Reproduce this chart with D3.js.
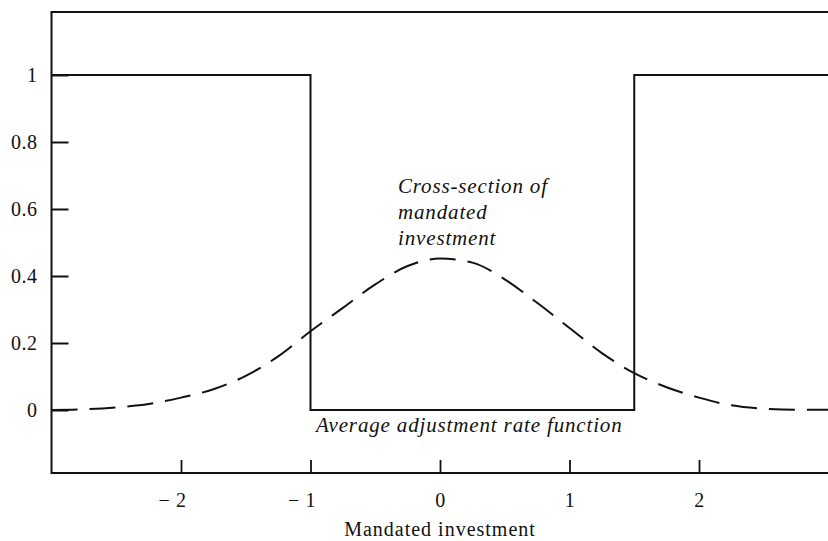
<!DOCTYPE html>
<html>
<head>
<meta charset="utf-8">
<script src="https://cdn.jsdelivr.net/npm/d3@7"></script>
<style>
  body { margin: 0; background: #fff; }
  svg { display: block; }
  .tick text { font-family: "Liberation Serif", "Times New Roman", serif; font-size: 20px; letter-spacing: 0.5px; fill: #111; }
  .note { font-family: "Liberation Serif", serif; font-style: italic; font-size: 21px; letter-spacing: 0.85px; fill: #111; }
</style>
</head>
<body>
<svg id="chart" width="828" height="541"></svg>
<script>
// step function (average adjustment rate)
const stepX = [-3, -1, -1, 1.5, 1.5, 3];
const stepY = [1, 1, 0, 0, 1, 1];

// cross-section of mandated investment
const densX = [-3, -2.75, -2.5, -2.25, -2, -1.75, -1.5, -1.25, -1, -0.75, -0.5, -0.25, 0,
               0.25, 0.5, 0.75, 1, 1.25, 1.5, 1.75, 2, 2.25, 2.5, 2.75, 3];
const densY = [0, 0.002, 0.008, 0.018, 0.037, 0.062, 0.102, 0.16, 0.235, 0.305, 0.375, 0.43, 0.452,
               0.44, 0.39, 0.32, 0.245, 0.17, 0.11, 0.068, 0.037, 0.014, 0.004, 0.001, 0.001];

const xTicks = [-2, -1, 0, 1, 2];
const xTickLabels = ["\u2212 2", "\u2212 1", "0", "1", "2"];
const yTicks = [0, 0.2, 0.4, 0.6, 0.8, 1];
const yTickLabels = ["0", "0.2", "0.4", "0.6", "0.8", "1"];

const svg = d3.select("#chart");
const mLeft = 51.5, mRight = 828.5, mTop = 12, mBottom = 473;

let x = d3.scaleLinear().domain([-3, 3]).range([mLeft, mRight]);
let y = d3.scaleLinear().domain([-0.188, 1.188]).range([mBottom, mTop]);

// frame: top, left, bottom (no right side)
svg.append("path")
  .attr("d", `M${mRight},${mTop}H${mLeft}V${mBottom}H${mRight}`)
  .attr("fill", "none")
  .attr("stroke", "#111")
  .attr("stroke-width", 2);

// y axis, ticks pointing inwards
svg.append("g")
  .attr("transform", `translate(${mLeft},0)`)
  .call(d3.axisLeft(y).tickValues(yTicks)
    .tickFormat((d, i) => yTickLabels[i])
    .tickSizeInner(-17).tickSizeOuter(0).tickPadding(14))
  .call(g => g.select(".domain").remove())
  .call(g => g.selectAll(".tick line").attr("stroke", "#111").attr("stroke-width", 2))
  .call(g => g.selectAll(".tick text").attr("dy", "0.32em"));

// x axis, ticks pointing up; minus sign hangs to the left of the digit
svg.append("g")
  .attr("transform", `translate(0,${mBottom})`)
  .call(d3.axisBottom(x).tickValues(xTicks)
    .tickFormat((d, i) => xTickLabels[i])
    .tickSizeInner(-13).tickSizeOuter(0).tickPadding(20))
  .call(g => g.select(".domain").remove())
  .call(g => g.selectAll(".tick line").attr("stroke", "#111").attr("stroke-width", 1.8))
  .call(g => g.selectAll(".tick text").attr("dx", d => d < 0 ? "-0.45em" : 0));

// step function
svg.append("path")
  .datum(stepX.map((d, i) => [d, stepY[i]]))
  .attr("fill", "none")
  .attr("stroke", "#111")
  .attr("stroke-width", 2)
  .attr("d", d3.line().x(d => x(d[0])).y(d => y(d[1])));

// dashed density
svg.append("path")
  .datum(densX.map((d, i) => [d, densY[i]]))
  .attr("fill", "none")
  .attr("stroke", "#111")
  .attr("stroke-width", 2)
  .attr("stroke-dasharray", "26,12")
  .attr("d", d3.line().curve(d3.curveMonotoneX).x(d => x(d[0])).y(d => y(d[1])));

// annotations
svg.append("text").attr("class", "note")
  .attr("x", 316).attr("y", 432)
  .text("Average adjustment rate function");

const lab = svg.append("text").attr("class", "note").attr("x", 398).attr("y", 193);
["Cross-section of", "mandated", "investment"].forEach((t, i) => {
  lab.append("tspan").attr("x", 398).attr("dy", i ? 26 : 0).text(t);
});

svg.append("text")
  .attr("x", 440).attr("y", 536)
  .attr("text-anchor", "middle")
  .style("font-family", "Liberation Serif, serif")
  .style("font-size", "20px")
  .style("letter-spacing", "1px")
  .attr("fill", "#111")
  .text("Mandated investment");
</script>
</body>
</html>
